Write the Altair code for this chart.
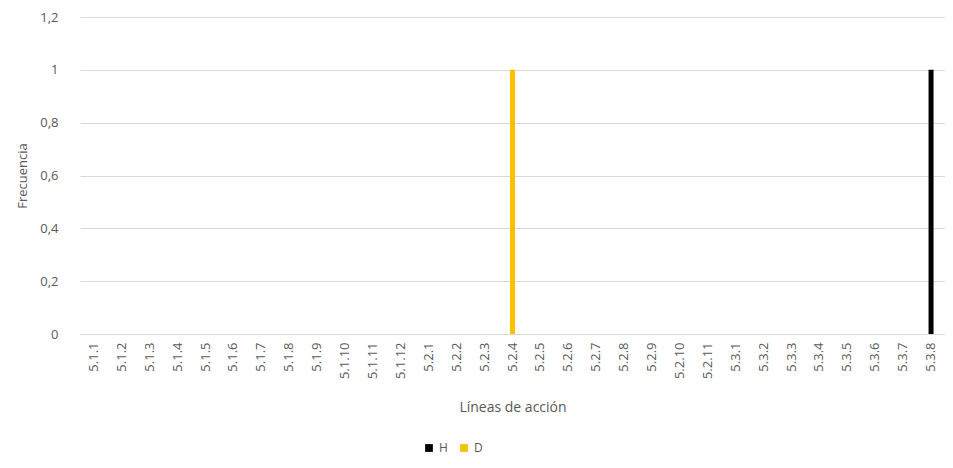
import altair as alt
import pandas as pd

categories = (["5.1.%d" % i for i in range(1, 13)]
              + ["5.2.%d" % i for i in range(1, 12)]
              + ["5.3.%d" % i for i in range(1, 9)])
series_names = ["H", "D"]
h_values = [0] * 30 + [1]
d_values = [0] * 15 + [1] + [0] * 15
colors = ["#000000", "#FFC000"]

rows = []
for c, h, d in zip(categories, h_values, d_values):
    rows.append({"cat": c, "serie": "H", "valor": h})
    rows.append({"cat": c, "serie": "D", "valor": d})
df = pd.DataFrame(rows)

FONT = "Open Sans"
GREY = "#595959"

chart = alt.Chart(df).mark_bar(size=5).encode(
    x=alt.X("cat:N", sort=categories, title="Líneas de acción",
            scale=alt.Scale(domain=categories, paddingInner=0, paddingOuter=0),
            axis=alt.Axis(labelAngle=-90, labelPadding=8, titlePadding=22,
                          ticks=False, domainColor="#d9d9d9",
                          labelFontSize=13, titleFontSize=14)),
    y=alt.Y("valor:Q", title="Frecuencia",
            scale=alt.Scale(domain=[0, 1.2]),
            axis=alt.Axis(values=[0, 0.2, 0.4, 0.6, 0.8, 1.0, 1.2],
                          labelExpr="replace(format(datum.value, '.1~f'), '.', ',')",
                          domain=False, ticks=False, labelPadding=22,
                          gridColor="#d9d9d9", labelFontSize=13,
                          titleFontSize=13, titlePadding=10)),
    color=alt.Color("serie:N", sort=series_names,
                    scale=alt.Scale(domain=series_names, range=colors),
                    legend=alt.Legend(title=None, orient="none", direction="horizontal",
                                      legendX=343, legendY=425, symbolType="square",
                                      symbolSize=60, labelFontSize=12, columnPadding=10,
                                      labelOffset=4, symbolStrokeWidth=0)),
).transform_filter("datum.valor > 0").properties(
    width=865, height=317,
    autosize=alt.AutoSizeParams(type="none"),
    padding={"left": 72, "top": 9, "right": 0, "bottom": 122},
).configure_axis(
    labelFont=FONT, titleFont=FONT, labelColor=GREY, titleColor=GREY,
    titleFontWeight="normal",
).configure_legend(
    labelFont=FONT, labelColor=GREY,
).configure_view(stroke=None)

chart.save("out.html", embed_options={"renderer": "svg", "actions": False})
